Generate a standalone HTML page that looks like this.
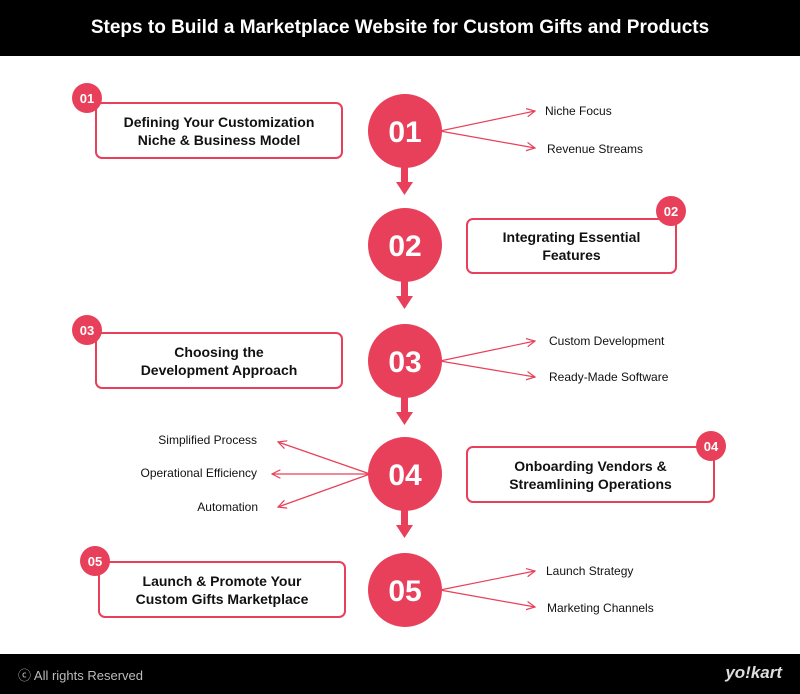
<!DOCTYPE html>
<html><head><meta charset="utf-8"><style>
body{margin:0;width:800px;height:694px;background:#fff;position:relative;overflow:hidden;font-family:"Liberation Sans",sans-serif}
.hdr{position:absolute;left:0;top:0;width:800px;height:56px;background:#000;color:#fff;font-weight:bold;font-size:19px;text-align:center;line-height:56px}
.ftr{position:absolute;left:0;top:654px;width:800px;height:40px;background:#000;color:#bbb;font-size:13px}
.box{position:absolute;border:2px solid #e8405a;border-radius:7px;box-sizing:border-box;display:flex;align-items:center;justify-content:center;text-align:center;font-weight:bold;font-size:14px;line-height:18px;color:#111;background:#fff}
.lbl{position:absolute;font-size:12px;color:#111}
svg{position:absolute;left:0;top:0}
</style></head><body>
<div class="hdr">Steps to Build a Marketplace Website for Custom Gifts and Products</div>
<svg width="800" height="694">
<defs><marker id="a" markerWidth="8" markerHeight="8" refX="7" refY="4" orient="auto"><path d="M0,0.5 L7,4 L0,7.5" fill="none" stroke="#e8405a" stroke-width="1"/></marker></defs>
<g fill="#e8405a">
<rect x="401" y="165" width="7" height="18"/><path d="M396,182 L413,182 L404.5,195Z"/>
<rect x="401" y="279" width="7" height="18"/><path d="M396,296 L413,296 L404.5,309Z"/>
<rect x="401" y="395" width="7" height="18"/><path d="M396,412 L413,412 L404.5,425Z"/>
<rect x="401" y="508" width="7" height="18"/><path d="M396,525 L413,525 L404.5,538Z"/>
</g>
<g stroke="#e8405a" stroke-width="1.2" fill="none" marker-end="url(#a)">
<path d="M440,131 L535,111"/><path d="M440,131 L535,148"/>
<path d="M440,361 L535,341"/><path d="M440,361 L535,377"/>
<path d="M370,474 L278,442"/><path d="M370,474 L272,474"/><path d="M370,474 L278,507"/>
<path d="M440,590 L535,571"/><path d="M440,590 L535,607"/>
</g>
<g fill="#e8405a">
<circle cx="405" cy="131" r="37"/><circle cx="405" cy="245" r="37"/><circle cx="405" cy="361" r="37"/><circle cx="405" cy="474" r="37"/><circle cx="405" cy="590" r="37"/>
</g>
<g fill="#fff" font-family="Liberation Sans" font-weight="bold" font-size="30" text-anchor="middle">
<text x="405" y="142">01</text><text x="405" y="256">02</text><text x="405" y="372">03</text><text x="405" y="485">04</text><text x="405" y="601">05</text>
</g>
</svg>
<div class="box" style="left:95px;top:102px;width:248px;height:57px">Defining Your Customization<br>Niche &amp; Business Model</div>
<div class="box" style="left:466px;top:218px;width:211px;height:56px">Integrating Essential<br>Features</div>
<div class="box" style="left:95px;top:332px;width:248px;height:57px">Choosing the<br>Development Approach</div>
<div class="box" style="left:466px;top:446px;width:249px;height:57px">Onboarding Vendors &amp;<br>Streamlining Operations</div>
<div class="box" style="left:98px;top:561px;width:248px;height:57px">Launch &amp; Promote Your<br>Custom Gifts Marketplace</div>
<svg width="800" height="694">
<g fill="#e8405a"><circle cx="87" cy="98" r="15"/><circle cx="671" cy="211" r="15"/><circle cx="87" cy="330" r="15"/><circle cx="711" cy="446" r="15"/><circle cx="95" cy="561" r="15"/></g>
<g fill="#fff" font-family="Liberation Sans" font-weight="bold" font-size="13" text-anchor="middle">
<text x="87" y="103">01</text><text x="671" y="216">02</text><text x="87" y="335">03</text><text x="711" y="451">04</text><text x="95" y="566">05</text></g>
</svg>
<div class="lbl" style="left:545px;top:104px">Niche Focus</div>
<div class="lbl" style="left:547px;top:142px">Revenue Streams</div>
<div class="lbl" style="left:549px;top:334px">Custom Development</div>
<div class="lbl" style="left:549px;top:370px">Ready-Made Software</div>
<div class="lbl" style="right:543px;top:433px">Simplified Process</div>
<div class="lbl" style="right:543px;top:466px">Operational Efficiency</div>
<div class="lbl" style="right:542px;top:500px">Automation</div>
<div class="lbl" style="left:546px;top:564px">Launch Strategy</div>
<div class="lbl" style="left:547px;top:601px">Marketing Channels</div>
<div class="ftr"><span style="position:absolute;left:18px;top:11px">ⓒ All rights Reserved</span><span style="position:absolute;right:18px;top:9px;color:#ddd;font-weight:bold;font-style:italic;font-size:17px">yo!kart</span></div>
</body></html>
